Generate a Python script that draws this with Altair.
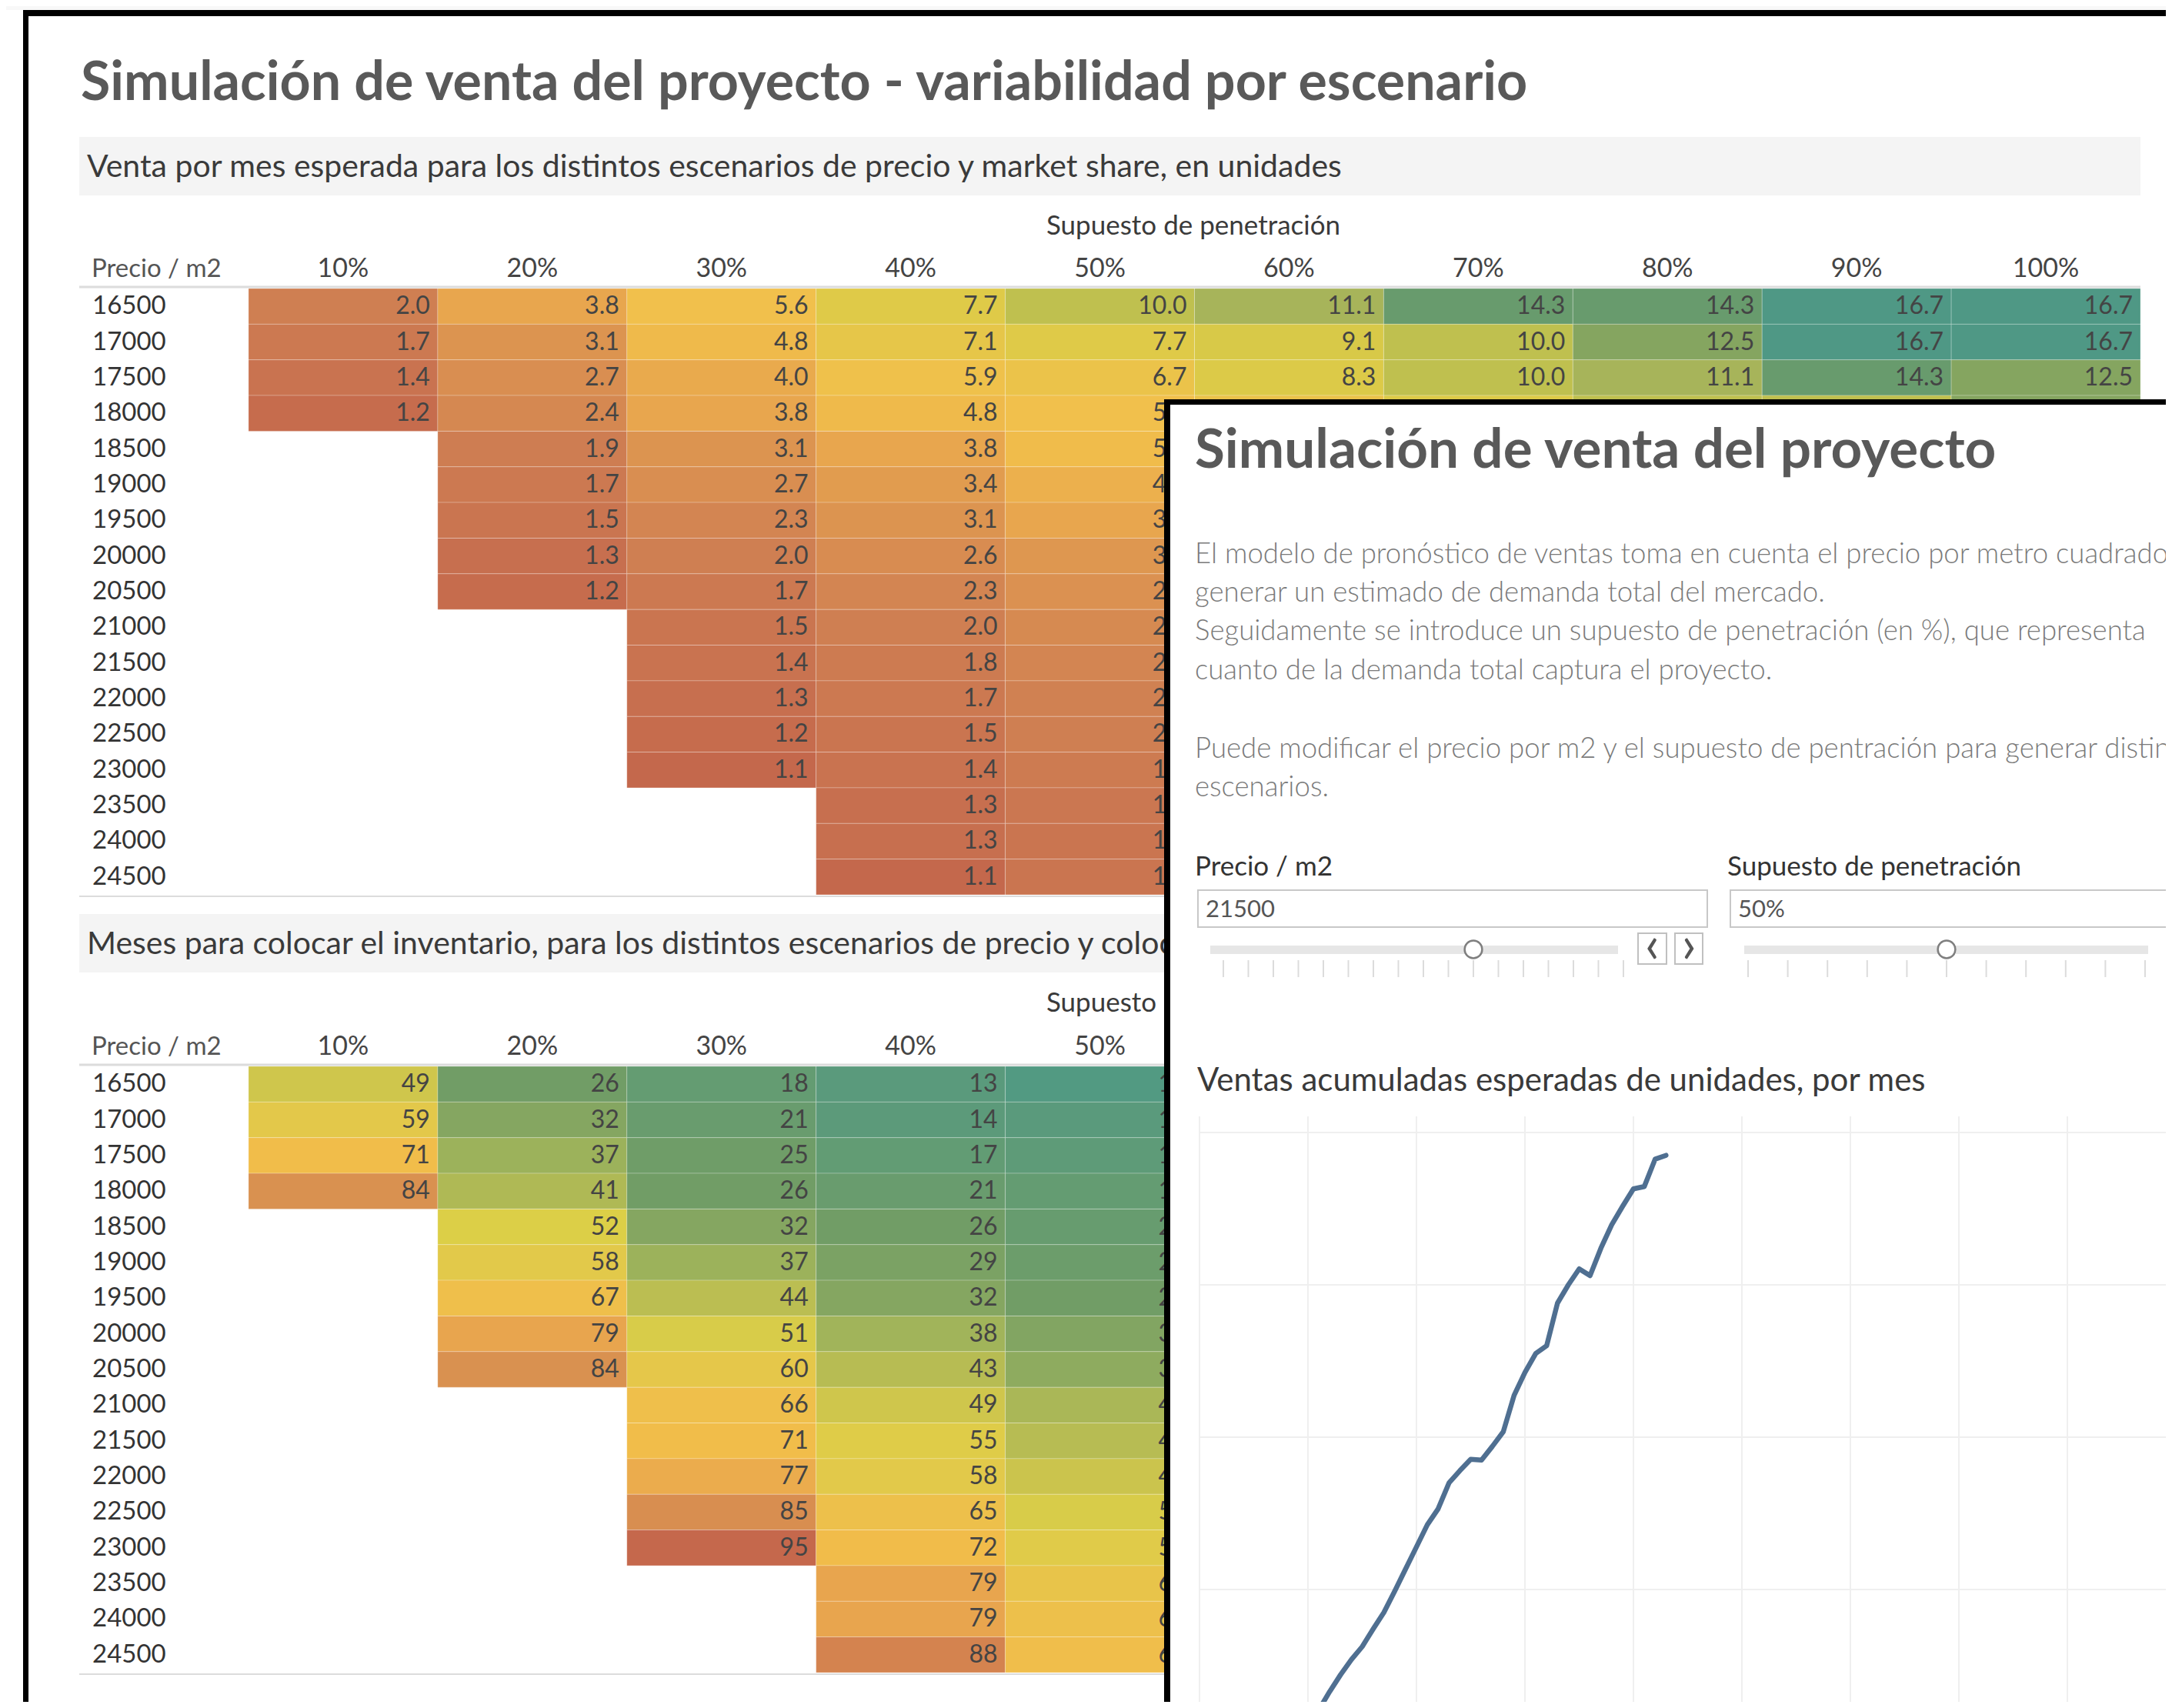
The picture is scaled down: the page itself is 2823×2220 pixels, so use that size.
import altair as alt
import pandas as pd

# ---------------- data ----------------
PRECIOS = [16500, 17000, 17500, 18000, 18500, 19000, 19500, 20000, 20500,
           21000, 21500, 22000, 22500, 23000, 23500, 24000, 24500]
PENETRACION = ["10%", "20%", "30%", "40%", "50%", "60%", "70%", "80%", "90%", "100%"]

# Venta por mes esperada (unidades) – one list per penetration column (None = empty cell)
VENTA_10 = [2.0, 1.7, 1.4, 1.2] + [None] * 13
VENTA_20 = [3.8, 3.1, 2.7, 2.4, 1.9, 1.7, 1.5, 1.3, 1.2] + [None] * 8
VENTA_30 = [5.6, 4.8, 4.0, 3.8, 3.1, 2.7, 2.3, 2.0, 1.7, 1.5, 1.4, 1.3, 1.2, 1.1] + [None] * 3
VENTA_40 = [7.7, 7.1, 5.9, 4.8, 3.8, 3.4, 3.1, 2.6, 2.3, 2.0, 1.8, 1.7, 1.5, 1.4, 1.3, 1.3, 1.1]
VENTA_50 = [10.0, 7.7, 6.7, 5.6, 5.0, 4.3, 3.8, 3.2, 2.9, 2.5, 2.3, 2.1, 2.0, 1.8, 1.6, 1.5, 1.5]
VENTA_60 = [11.1, 9.1, 8.3, 6.7, 5.9, 5.0, 4.5, 3.8, 3.4, 3.0, 2.7, 2.6, 2.3, 2.1, 1.9, 1.9, 1.7]
VENTA_70 = [14.3, 10.0, 10.0, 8.3, 6.7, 5.9, 5.3, 4.5, 4.0, 3.6, 3.1, 2.9, 2.7, 2.4, 2.2, 2.1, 2.0]
VENTA_80 = [14.3, 12.5, 11.1, 10.0, 7.7, 6.7, 6.3, 5.3, 4.5, 4.0, 3.6, 3.3, 3.0, 2.8, 2.5, 2.4, 2.3]
VENTA_90 = [16.7, 16.7, 14.3, 10.0, 9.1, 7.7, 7.1, 5.9, 5.3, 4.5, 4.0, 3.8, 3.4, 3.1, 2.9, 2.7, 2.6]
VENTA_100 = [16.7, 16.7, 12.5, 12.5, 10.0, 8.3, 7.7, 6.7, 5.9, 5.0, 4.5, 4.2, 3.8, 3.4, 3.1, 3.0, 2.9]

# Meses para colocar el inventario
MESES_10 = [49, 59, 71, 84] + [None] * 13
MESES_20 = [26, 32, 37, 41, 52, 58, 67, 79, 84] + [None] * 8
MESES_30 = [18, 21, 25, 26, 32, 37, 44, 51, 60, 66, 71, 77, 85, 95] + [None] * 3
MESES_40 = [13, 14, 17, 21, 26, 29, 32, 38, 43, 49, 55, 58, 65, 72, 79, 79, 88]
MESES_50 = [10, 13, 15, 18, 20, 23, 26, 31, 34, 40, 43, 48, 51, 56, 62, 65, 68]
MESES_60 = [9, 11, 12, 15, 17, 20, 22, 26, 29, 33, 37, 39, 44, 48, 53, 54, 59]
MESES_70 = [7, 10, 10, 12, 15, 17, 19, 22, 25, 28, 32, 34, 37, 41, 45, 47, 50]
MESES_80 = [7, 8, 9, 10, 13, 15, 16, 19, 22, 25, 28, 30, 33, 36, 40, 41, 44]
MESES_90 = [6, 6, 7, 10, 11, 13, 14, 17, 19, 22, 25, 26, 29, 32, 35, 37, 39]
MESES_100 = [6, 6, 8, 8, 10, 12, 13, 15, 17, 20, 22, 24, 26, 29, 32, 33, 35]

# Ventas acumuladas esperadas (precio 21500, penetración 50%)
MES = [1, 2, 3, 4, 5, 6, 7, 8, 9, 10, 11, 12, 13, 14, 15, 16, 17, 18, 19, 20, 21, 22,
       23, 24, 25, 26, 27, 28, 29, 30, 31, 32, 33, 34, 35, 36, 37, 38, 39, 40, 41, 42, 43]
ACUMULADAS = [2.3, 4.6, 6.9, 9.1, 11.4, 13.6, 15.8, 18.0, 20.1, 22.2, 24.2, 26.6, 28.8,
              30.8, 32.5, 34.8, 37.0, 39.8, 42.7, 45.6, 48.5, 50.6, 54.0, 55.6, 57.1, 57.0,
              58.8, 60.7, 65.5, 68.5, 71.0, 72.0, 77.6, 80.0, 82.1, 81.2, 84.8, 87.9, 90.3,
              92.6, 92.9, 96.5, 97.0]

SLIDER_PRECIO = 21500
SLIDER_PEN = 50
SLIDER_PEN_TICKS = [0, 10, 20, 30, 40, 50, 60, 70, 80, 90, 100]
GRID_MES = [0, 10, 20, 30, 40, 50, 60, 70, 80, 90]
GRID_UNID = [20, 40, 60, 80, 100]

# ---------------- styling ----------------
FONT = "Lato"
W, H = 2807, 2204

VENTA_DOMAIN = [1.1, 1.4, 2.0, 2.7, 3.1, 3.8, 4.8, 5.6, 6.7, 7.7, 9.1, 10.0, 11.1, 12.5, 14.3, 16.7]
VENTA_COLORS = ["#c4684c", "#c97350", "#cf7f52", "#d98e51", "#dc9450", "#e8a64e", "#efba4b",
                "#f1c04c", "#ebc34a", "#dfca48", "#d8c948", "#bfc04f", "#a7b45a", "#85a560",
                "#689b6d", "#4f9885"]
MESES_DOMAIN = [6, 10, 13, 18, 26, 32, 37, 41, 49, 52, 59, 66, 72, 79, 84, 88, 95]
MESES_COLORS = ["#4e9886", "#529a82", "#5a9a7c", "#649c72", "#719d66", "#85a661", "#9cb25b",
                "#afb955", "#cfc64c", "#dccf47", "#e3c84a", "#efbf4b", "#f1bc4a", "#e8a54e",
                "#d99150", "#d4834f", "#c5684c"]


def long_table(cols):
    rows = []
    for pen, vals in zip(PENETRACION, cols):
        for p, v in zip(PRECIOS, vals):
            if v is not None:
                rows.append({"pen": pen, "precio": p, "valor": v})
    return pd.DataFrame(rows)


venta_df = long_table([VENTA_10, VENTA_20, VENTA_30, VENTA_40, VENTA_50,
                       VENTA_60, VENTA_70, VENTA_80, VENTA_90, VENTA_100])
meses_df = long_table([MESES_10, MESES_20, MESES_30, MESES_40, MESES_50,
                       MESES_60, MESES_70, MESES_80, MESES_90, MESES_100])


def blank():
    return pd.DataFrame({"k": [0]})


def box(x, x2, y, y2, fill, stroke=None, sw=0):
    kw = dict(fill=fill)
    if stroke:
        kw.update(stroke=stroke, strokeWidth=sw)
    return alt.Chart(blank()).mark_rect(**kw).encode(
        x=alt.value(x), x2=alt.value(x2), y=alt.value(y), y2=alt.value(y2))


def hline(x, x2, y, color, sw):
    return alt.Chart(blank()).mark_rule(color=color, strokeWidth=sw).encode(
        x=alt.value(x), x2=alt.value(x2), y=alt.value(y))


def label(text, x, y, size, color="#444", weight="normal", align="left", baseline="alphabetic"):
    return alt.Chart(blank()).mark_text(
        text=text, font=FONT, fontSize=size, fontWeight=weight, color=color,
        align=align, baseline=baseline).encode(x=alt.value(x), y=alt.value(y))


def heatmap(df, y0, y1, fmt, domain, colors, header_y):
    xs = alt.Scale(type="band", domain=PENETRACION, range=[315, 2774], paddingInner=0, paddingOuter=0)
    ys = alt.Scale(type="band", domain=PRECIOS, range=[y0, y1], paddingInner=0, paddingOuter=0)
    base = alt.Chart(df)
    rect = base.mark_rect(stroke="white", strokeWidth=1, strokeOpacity=0.25).encode(
        x=alt.X("pen:O", scale=xs, axis=None),
        y=alt.Y("precio:O", scale=ys, axis=None),
        color=alt.Color("valor:Q", scale=alt.Scale(domain=domain, range=colors, interpolate="rgb"),
                        legend=None))
    vals = base.mark_text(align="right", baseline="middle", dx=-10, font=FONT, fontSize=32,
                          color="#444").encode(
        x=alt.X("pen:O", scale=xs, axis=None, bandPosition=1),
        y=alt.Y("precio:O", scale=ys, axis=None, bandPosition=0.5),
        text=alt.Text("valor:Q", format=fmt))
    rowlab = alt.Chart(pd.DataFrame({"precio": PRECIOS})).mark_text(
        align="left", baseline="middle", font=FONT, fontSize=33, color="#333").encode(
        x=alt.value(112),
        y=alt.Y("precio:O", scale=ys, axis=None, bandPosition=0.5),
        text=alt.Text("precio:O"))
    collab = alt.Chart(pd.DataFrame({"pen": PENETRACION})).mark_text(
        align="center", baseline="alphabetic", font=FONT, fontSize=34, color="#444").encode(
        x=alt.X("pen:O", scale=xs, axis=None, bandPosition=0.5),
        y=alt.value(header_y),
        text=alt.Text("pen:N"))
    return [rect, vals, rowlab, collab]


layers = []

# light strip above the frame and outer frame
layers.append(box(0, W + 20, -10, 5, "#f8f8f8"))
layers += [box(22, W + 20, 5, 13, "black"), box(22, 29, 5, H + 20, "black")]

# main title and section 1
layers.append(label("Simulación de venta del proyecto - variabilidad por escenario",
                    97, 122, 70, color="#595959", weight="bold"))
layers.append(box(95, 2774, 170, 246, "#f4f4f4"))
layers.append(label("Venta por mes esperada para los distintos escenarios de precio y market share, en unidades",
                    105, 222, 41, color="#3a3a3a"))
layers.append(label("Supuesto de penetración", 1543, 297, 35, color="#3a3a3a", align="center"))
layers.append(label("Precio / m2", 111, 352, 33, color="#555"))
layers += heatmap(venta_df, 367, 1155, ".1f", VENTA_DOMAIN, VENTA_COLORS, 352)
layers.append(hline(95, 2774, 365, "#dcdcdc", 3))
layers.append(hline(95, 2774, 1157, "#dcdcdc", 2))

# section 2
layers.append(box(95, 2774, 1180, 1256, "#f4f4f4"))
layers.append(label("Meses para colocar el inventario, para los distintos escenarios de precio y colocación",
                    105, 1232, 41, color="#3a3a3a"))
layers.append(label("Supuesto de penetración", 1543, 1307, 35, color="#3a3a3a", align="center"))
layers.append(label("Precio / m2", 111, 1363, 33, color="#555"))
layers += heatmap(meses_df, 1378, 2166, "d", MESES_DOMAIN, MESES_COLORS, 1363)
layers.append(hline(95, 2774, 1376, "#dcdcdc", 3))
layers.append(hline(95, 2774, 2168, "#dcdcdc", 2))

# overlay panel
layers.append(box(1505, W + 20, 511, H + 20, "black"))
layers.append(box(1513, W + 20, 518, H + 20, "white"))
layers.append(label("Simulación de venta del proyecto", 1545, 600, 71, color="#595959", weight="bold"))
PARRAFO = [
    ("El modelo de pronóstico de ventas toma en cuenta el precio por metro cuadrado para", 724),
    ("generar un estimado de demanda total del mercado.", 774),
    ("Seguidamente se introduce un supuesto de penetración (en %), que representa", 824),
    ("cuanto de la demanda total captura el proyecto.", 875),
    ("Puede modificar el precio por m2 y el supuesto de pentración para generar distintos", 977),
    ("escenarios.", 1027),
]
for txt, yy in PARRAFO:
    layers.append(label(txt, 1545, yy, 36.6, color="#7a7a7a", weight=300))

layers.append(label("Precio / m2", 1545, 1130, 35, color="#333"))
layers.append(label("Supuesto de penetración", 2237, 1130, 35, color="#333"))
layers.append(box(1549, 2211, 1149, 1197, "white", "#c8c8c8", 2))
layers.append(box(2241, W + 20, 1149, 1197, "white", "#c8c8c8", 2))
layers.append(label(str(SLIDER_PRECIO), 1559, 1184, 31, color="#555"))
layers.append(label(f"{SLIDER_PEN}%", 2251, 1184, 31, color="#555"))

# slider 1 (precio)
layers.append(box(1565, 2095, 1221, 1232, "#e6e6e6"))
xs_p = alt.Scale(domain=[PRECIOS[0], PRECIOS[-1]], range=[1582, 2102], nice=False, zero=False)
layers.append(alt.Chart(pd.DataFrame({"precio": PRECIOS})).mark_rule(color="#dcdcdc", strokeWidth=2).encode(
    x=alt.X("precio:Q", scale=xs_p, axis=None), y=alt.value(1240), y2=alt.value(1262)))
layers.append(alt.Chart(pd.DataFrame({"precio": [SLIDER_PRECIO]})).mark_point(
    shape="circle", filled=False, fill="white", fillOpacity=1, stroke="#7f7f7f", strokeWidth=2.5,
    size=520, opacity=1).encode(x=alt.X("precio:Q", scale=xs_p, axis=None), y=alt.value(1226)))
layers.append(box(2121, 2158, 1205, 1245, "white", "#c0c0c0", 2))
layers.append(box(2169, 2205, 1205, 1245, "white", "#c0c0c0", 2))
layers.append(label("‹", 2139.5, 1223, 68, color="#555", align="center", baseline="middle"))
layers.append(label("›", 2187, 1223, 68, color="#555", align="center", baseline="middle"))

# slider 2 (penetración)
layers.append(box(2259, 2784, 1221, 1232, "#e6e6e6"))
xs_s = alt.Scale(domain=[0, 100], range=[2264, 2780], nice=False, zero=False)
layers.append(alt.Chart(pd.DataFrame({"pct": SLIDER_PEN_TICKS})).mark_rule(color="#dcdcdc", strokeWidth=2).encode(
    x=alt.X("pct:Q", scale=xs_s, axis=None), y=alt.value(1240), y2=alt.value(1262)))
layers.append(alt.Chart(pd.DataFrame({"pct": [SLIDER_PEN]})).mark_point(
    shape="circle", filled=False, fill="white", fillOpacity=1, stroke="#7f7f7f", strokeWidth=2.5,
    size=520, opacity=1).encode(x=alt.X("pct:Q", scale=xs_s, axis=None), y=alt.value(1226)))

# line chart
layers.append(label("Ventas acumuladas esperadas de unidades, por mes", 1548, 1410, 42, color="#3a3a3a"))
xs_m = alt.Scale(domain=[0, 90], range=[1551, 2820], nice=False, zero=False)
ys_u = alt.Scale(domain=[0, 100], range=[2454, 1464], nice=False, zero=False)
layers.append(alt.Chart(pd.DataFrame({"mes": GRID_MES})).mark_rule(color="#efefef", strokeWidth=2).encode(
    x=alt.X("mes:Q", scale=xs_m, axis=None), y=alt.value(1443), y2=alt.value(H + 20)))
layers.append(alt.Chart(pd.DataFrame({"u": GRID_UNID})).mark_rule(color="#efefef", strokeWidth=2).encode(
    y=alt.Y("u:Q", scale=ys_u, axis=None), x=alt.value(1551), x2=alt.value(W + 20)))
layers.append(alt.Chart(pd.DataFrame({"mes": MES, "acum": ACUMULADAS})).mark_line(
    color="#4f6f91", strokeWidth=6.5, strokeJoin="round", strokeCap="round").encode(
    x=alt.X("mes:Q", scale=xs_m, axis=None),
    y=alt.Y("acum:Q", scale=ys_u, axis=None)))

chart = alt.layer(*layers).resolve_scale(
    x="independent", y="independent", color="independent"
).properties(width=W, height=H, padding=0, autosize="none", background="white"
).configure_view(strokeWidth=0)

chart.save("out.html", embed_options={"renderer": "svg", "actions": False})
